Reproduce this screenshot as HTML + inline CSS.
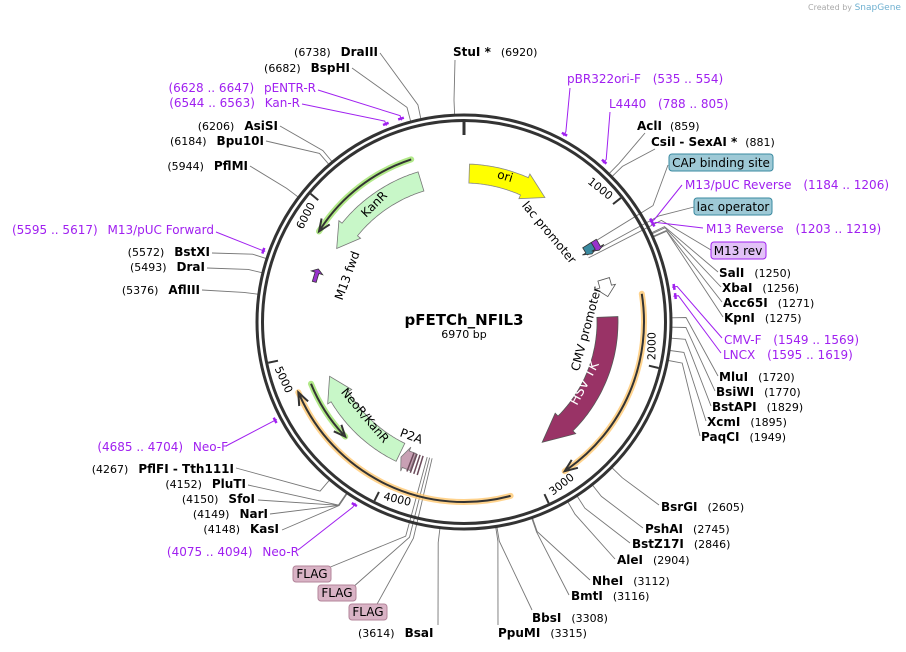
<!DOCTYPE html>
<html><head><meta charset="utf-8"><style>
html,body{margin:0;padding:0;background:#fff;width:906px;height:652px;overflow:hidden}
svg{display:block}
text{font-family:"DejaVu Sans","Liberation Sans",sans-serif;font-size:12px;fill:#000}
.b{font-weight:bold}
.p{fill:#a020f0}
</style></head><body>
<svg id="s" width="906" height="652" viewBox="0 0 906 652" xmlns="http://www.w3.org/2000/svg">
<text x="808" y="10" style="font-size:8px;fill:#aaa">Created by <tspan style="fill:#6fb0d0;font-size:9px">SnapGene</tspan></text>
<g id="lines" stroke="#777" stroke-width="0.9" fill="none"></g>
<g id="plines" stroke="#a020f0" stroke-width="1" fill="none"></g>
<circle cx="464" cy="322" r="207" fill="none" stroke="#333" stroke-width="3"/>
<circle cx="464" cy="322" r="201.5" fill="none" stroke="#333" stroke-width="3"/>
<g id="feat"></g>
<g id="ticks"></g>
<text x="464" y="325" text-anchor="middle" class="b" style="font-size:15px">pFETCh_NFIL3</text>
<text x="464" y="338" text-anchor="middle" style="font-size:11px">6970 bp</text>

<text x="567" y="83" class="p">pBR322ori-F <tspan dx="8">(535 .. 554)</tspan></text>
<text x="609" y="108" class="p">L4440 <tspan dx="8">(788 .. 805)</tspan></text>
<text x="637" y="130"><tspan class="b">AclI</tspan><tspan dx="8" style="font-size:11px">(859)</tspan></text>
<text x="651" y="146"><tspan class="b">CsiI</tspan> <tspan class="b">- SexAI *</tspan><tspan dx="8" style="font-size:11px">(881)</tspan></text>
<rect x="669" y="154" width="104" height="17" rx="3" fill="#9ec9d6" stroke="#3a8aa0"/>
<text x="721" y="167" text-anchor="middle">CAP binding site</text>
<text x="685" y="189" class="p">M13/pUC Reverse <tspan dx="8">(1184 .. 1206)</tspan></text>
<rect x="694" y="198" width="78" height="17" rx="3" fill="#9ec9d6" stroke="#3a8aa0"/>
<text x="733" y="211" text-anchor="middle">lac operator</text>
<text x="706" y="233" class="p">M13 Reverse <tspan dx="8">(1203 .. 1219)</tspan></text>
<rect x="711" y="242" width="55" height="17" rx="3" fill="#e2c2f7" stroke="#a020f0"/>
<text x="738" y="255" text-anchor="middle">M13 rev</text>
<text x="719" y="277"><tspan class="b">SalI</tspan><tspan dx="10" style="font-size:11px">(1250)</tspan></text>
<text x="722" y="292"><tspan class="b">XbaI</tspan><tspan dx="10" style="font-size:11px">(1256)</tspan></text>
<text x="723" y="307"><tspan class="b">Acc65I</tspan><tspan dx="10" style="font-size:11px">(1271)</tspan></text>
<text x="724" y="322"><tspan class="b">KpnI</tspan><tspan dx="10" style="font-size:11px">(1275)</tspan></text>
<text x="724" y="344" class="p">CMV-F <tspan dx="8">(1549 .. 1569)</tspan></text>
<text x="723" y="359" class="p">LNCX <tspan dx="8">(1595 .. 1619)</tspan></text>
<text x="719" y="381"><tspan class="b">MluI</tspan><tspan dx="10" style="font-size:11px">(1720)</tspan></text>
<text x="716" y="396"><tspan class="b">BsiWI</tspan><tspan dx="10" style="font-size:11px">(1770)</tspan></text>
<text x="712" y="411"><tspan class="b">BstAPI</tspan><tspan dx="10" style="font-size:11px">(1829)</tspan></text>
<text x="707" y="426"><tspan class="b">XcmI</tspan><tspan dx="10" style="font-size:11px">(1895)</tspan></text>
<text x="701" y="441"><tspan class="b">PaqCI</tspan><tspan dx="10" style="font-size:11px">(1949)</tspan></text>
<text x="661" y="511"><tspan class="b">BsrGI</tspan><tspan dx="10" style="font-size:11px">(2605)</tspan></text>
<text x="645" y="533"><tspan class="b">PshAI</tspan><tspan dx="10" style="font-size:11px">(2745)</tspan></text>
<text x="632" y="548"><tspan class="b">BstZ17I</tspan><tspan dx="10" style="font-size:11px">(2846)</tspan></text>
<text x="617" y="564"><tspan class="b">AleI</tspan><tspan dx="10" style="font-size:11px">(2904)</tspan></text>
<text x="592" y="585"><tspan class="b">NheI</tspan><tspan dx="10" style="font-size:11px">(3112)</tspan></text>
<text x="571" y="600"><tspan class="b">BmtI</tspan><tspan dx="10" style="font-size:11px">(3116)</tspan></text>
<text x="532" y="622"><tspan class="b">BbsI</tspan><tspan dx="10" style="font-size:11px">(3308)</tspan></text>
<text x="498" y="637"><tspan class="b">PpuMI</tspan><tspan dx="10" style="font-size:11px">(3315)</tspan></text>
<text x="358" y="637"><tspan style="font-size:11px">(3614)</tspan><tspan dx="10" class="b">BsaI</tspan></text>
<rect x="293" y="566" width="38" height="16" rx="3" fill="#d9b3c5" stroke="#b3849a"/><text x="312" y="578" text-anchor="middle">FLAG</text>
<rect x="318" y="585" width="38" height="16" rx="3" fill="#d9b3c5" stroke="#b3849a"/><text x="337" y="597" text-anchor="middle">FLAG</text>
<rect x="349" y="604" width="38" height="16" rx="3" fill="#d9b3c5" stroke="#b3849a"/><text x="368" y="616" text-anchor="middle">FLAG</text>
<text x="299" y="556" text-anchor="end" class="p">(4075 .. 4094) <tspan dx="6">Neo-R</tspan></text>
<text x="279" y="533" text-anchor="end"><tspan style="font-size:11px">(4148)</tspan><tspan dx="10" class="b">KasI</tspan></text>
<text x="268" y="518" text-anchor="end"><tspan style="font-size:11px">(4149)</tspan><tspan dx="10" class="b">NarI</tspan></text>
<text x="255" y="503" text-anchor="end"><tspan style="font-size:11px">(4150)</tspan><tspan dx="10" class="b">SfoI</tspan></text>
<text x="246" y="488" text-anchor="end"><tspan style="font-size:11px">(4152)</tspan><tspan dx="10" class="b">PluTI</tspan></text>
<text x="234" y="473" text-anchor="end"><tspan style="font-size:11px">(4267)</tspan><tspan dx="10" class="b">PflFI</tspan><tspan class="b"> - Tth111I</tspan></text>
<text x="228" y="451" text-anchor="end" class="p">(4685 .. 4704) <tspan dx="6">Neo-F</tspan></text>
<text x="200" y="294" text-anchor="end"><tspan style="font-size:11px">(5376)</tspan><tspan dx="10" class="b">AflIII</tspan></text>
<text x="205" y="271" text-anchor="end"><tspan style="font-size:11px">(5493)</tspan><tspan dx="10" class="b">DraI</tspan></text>
<text x="210" y="256" text-anchor="end"><tspan style="font-size:11px">(5572)</tspan><tspan dx="10" class="b">BstXI</tspan></text>
<text x="214" y="234" text-anchor="end" class="p">(5595 .. 5617) <tspan dx="6">M13/pUC Forward</tspan></text>
<text x="248" y="170" text-anchor="end"><tspan style="font-size:11px">(5944)</tspan><tspan dx="10" class="b">PflMI</tspan></text>
<text x="264" y="145" text-anchor="end"><tspan style="font-size:11px">(6184)</tspan><tspan dx="10" class="b">Bpu10I</tspan></text>
<text x="278" y="130" text-anchor="end"><tspan style="font-size:11px">(6206)</tspan><tspan dx="10" class="b">AsiSI</tspan></text>
<text x="300" y="107" text-anchor="end" class="p">(6544 .. 6563) <tspan dx="6">Kan-R</tspan></text>
<text x="316" y="92" text-anchor="end" class="p">(6628 .. 6647) <tspan dx="6">pENTR-R</tspan></text>
<text x="350" y="72" text-anchor="end"><tspan style="font-size:11px">(6682)</tspan><tspan dx="10" class="b">BspHI</tspan></text>
<text x="378" y="56" text-anchor="end"><tspan style="font-size:11px">(6738)</tspan><tspan dx="10" class="b">DraIII</tspan></text>
<text x="453" y="56"><tspan class="b">StuI *</tspan><tspan dx="10" style="font-size:11px">(6920)</tspan></text>
</svg>
<script>
var NS="http://www.w3.org/2000/svg",cx=464,cy=322,T=6970;
function P(deg,r){var a=deg*Math.PI/180;return [cx+r*Math.sin(a),cy-r*Math.cos(a)];}
function B(bp){return bp/T*360;}
function el(p,tag,at,txt){var e=document.createElementNS(NS,tag);for(var k in at)e.setAttribute(k,at[k]);if(txt)e.textContent=txt;document.getElementById(p).appendChild(e);return e;}
function pt(a){return a[0].toFixed(1)+","+a[1].toFixed(1);}
var L=[[859,645,133],[881,655,149],[1250,718,272],[1256,721,287],[1271,722,302],[1275,723,317],
[1720,718,376],[1770,715,391],[1829,711,406],[1895,706,421],[1949,700,436],
[2605,659,505],[2745,643,528],[2846,630,543],[2904,615,559],[3112,590,580],[3116,569,595],
[3308,532,610],[3315,498,625],[3614,438,625],[4148,282,530],[4149,270,514],[4150,258,500],[4152,248,485],[4267,236,468],
[5376,202,290],[5493,207,268],[5572,212,253],[5944,250,166],[6184,266,141],[6206,280,126],[6682,352,68],[6738,380,53],[6920,455,60]];
L.forEach(function(l){var a=P(B(l[0]),208),b=P(B(l[0]),222);el("lines","polyline",{points:pt(a)+" "+pt(b)+" "+l[1]+","+l[2]});});
[[1130,668,165],[1190,694,207],[3780,328,568],[3760,352,588],[3740,376,606],[1215,711,250]].forEach(function(l){var a=P(B(l[0]),140),b=P(B(l[0]),222);el("lines","polyline",{points:pt(a)+" "+pt(b)+" "+l[1]+","+l[2]});});
[[545,570,88],[797,610,112],[1195,682,185],[1211,703,228],[1559,722,338],[1607,721,353],[4085,298,550],[4695,226,446],[5606,216,232],[6553,302,104],[6637,318,90]].forEach(function(l){var a=P(B(l[0]),211),b=P(B(l[0]),216);el("plines","polyline",{points:pt(a)+" "+pt(b)+" "+l[1]+","+l[2]});
 var c=P(B(l[0])-0.8,213),d=P(B(l[0])+0.8,213);el("plines","line",{x1:c[0],y1:c[1],x2:d[0],y2:d[1],"stroke-width":2.5});});
[0,1000,2000,3000,4000,5000,6000].forEach(function(bp){var d=B(bp),a=P(d,200),b=P(d,bp?190:187);el("ticks","line",{x1:a[0],y1:a[1],x2:b[0],y2:b[1],stroke:"#333","stroke-width":bp?2:3});
 if(bp){var c=P(d-6,190);var rot=d-13;while(rot>90)rot-=180;while(rot<=-90)rot+=180;el("ticks","text",{x:c[0],y:c[1],"text-anchor":"middle",transform:"rotate("+rot+" "+c[0]+" "+c[1]+")",style:"font-size:11px","dominant-baseline":"middle"},String(bp));}});
function arrow(s,e,ri,ro,hd,fill,stroke){var dir=e>s?1:-1,m=e-dir*hd,pts=[],n=40,i;
 for(i=0;i<=n;i++)pts.push(P(s+(m-s)*i/n,ro));pts.push(P(m,ro+4));pts.push(P(e,(ri+ro)/2));pts.push(P(m,ri-4));
 for(i=n;i>=0;i--)pts.push(P(s+(m-s)*i/n,ri));
 el("feat","polygon",{points:pts.map(pt).join(" "),fill:fill,stroke:stroke,"stroke-width":0.8});}
function arcPath(s,e,r){var a=P(s,r),b=P(e,r);return "M"+pt(a)+" A"+r+","+r+" 0 "+(Math.abs(e-s)>180?1:0)+","+(e>s?1:0)+" "+pt(b);}
function line(s,e,r,col,head){el("feat","path",{d:arcPath(s,e,r),fill:"none",stroke:col,"stroke-width":6,"stroke-linecap":"round","stroke-opacity":0.8});
 var dir=e>s?1:-1;el("feat","path",{d:arcPath(s,e-dir*1,r),fill:"none",stroke:"#333","stroke-width":2});
 if(head){var t=P(e,r),a=P(e-dir*4,r+5),b=P(e-dir*4,r-5);el("feat","polyline",{points:pt(a)+" "+pt(t)+" "+pt(b),fill:"none",stroke:"#333","stroke-width":2});}}
arrow(2,33,139,158,9,"#ffff00","#888");
arrow(-17,-60,137,157,9,"#c8f7c8","#777");
line(-18,-58,171,"#9ee36a",true);
arrow(88,147,133,154,12,"#993366","#555");
line(81,146,180,"#ffc870",true);
line(165,247,180,"#ffc870",true);
line(248,226,165,"#9ee36a",true);
arrow(206,248,135,155,9,"#c8f7c8","#777");
arrow(73,80,140,152,4,"#fff","#555");
arrow(200,205,140,158,2,"#c8a0b4","#777");
for(var k=0;k<4;k++){var a=P(197+k*1.3,140),b=P(197+k*1.3,160);el("feat","line",{x1:a[0],y1:a[1],x2:b[0],y2:b[1],stroke:"#6b4a5a","stroke-width":1.5});}
arrow(58,62,140,150,1.5,"#3a8aa0","#333");arrow(58,62,150,156,1,"#9933cc","#333");
arrow(-75,-70,153,157,1.5,"#9933cc","#333");
function lab(t,x,y,rot,col,sz){el("feat","text",{x:x,y:y,"text-anchor":"middle",transform:"rotate("+rot+" "+x+" "+y+")",style:"font-size:"+(sz||12)+"px;fill:"+(col||"#000")},t);}
lab("ori",504,180,17);lab("KanR",377,207,-45);lab("lac promoter",546,235,50,"#000",12);
lab("M13 fwd",351,277,-70);lab("CMV promoter",590,330,-75);lab("HSV TK",588,385,-62,"#fff",13);
lab("NeoR/KanR",362,418,50);lab("P2A",410,440,20);
</script>
</body></html>
